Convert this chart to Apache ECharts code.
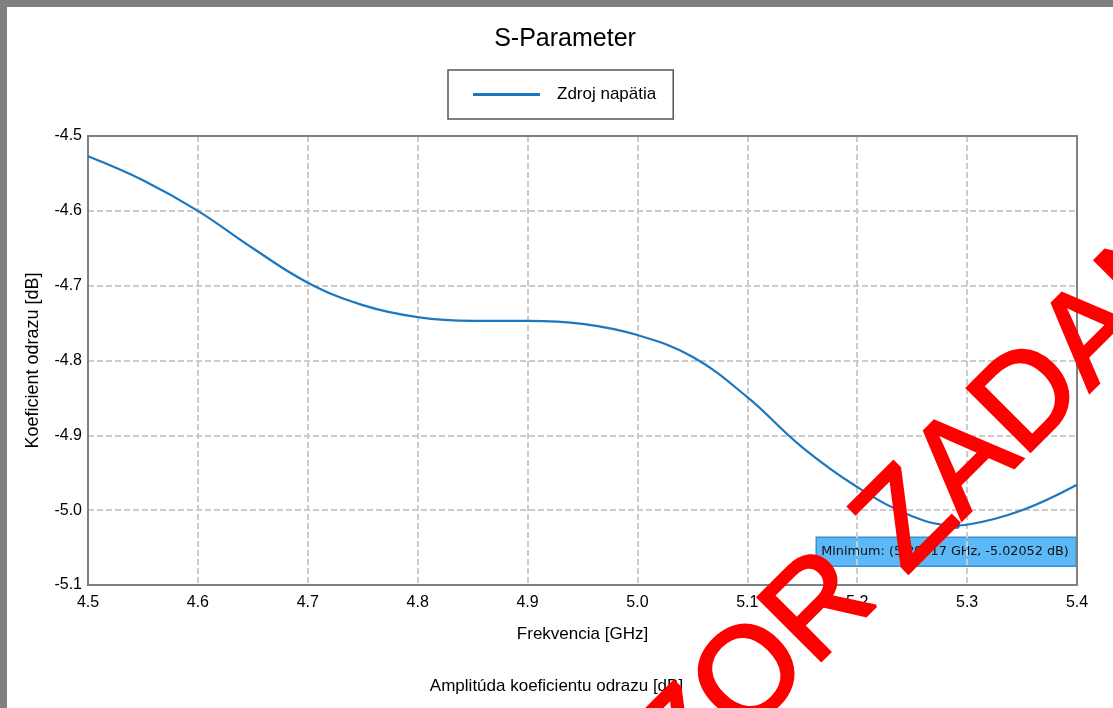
<!DOCTYPE html>
<html>
<head>
<meta charset="utf-8">
<script src="https://cdn.jsdelivr.net/npm/echarts@6/dist/echarts.min.js"></script>
<style>
html,body{margin:0;padding:0;}
#bg{position:absolute;left:0;top:0;width:1113px;height:708px;background:#808080;overflow:hidden;}
#panel{position:absolute;left:7px;top:7px;width:1106px;height:701px;background:#ffffff;}
#chart{position:absolute;left:0;top:0;width:1113px;height:708px;}
</style>
</head>
<body>
<div id="bg"><div id="panel"></div><div id="chart"></div></div>
<script>
const chartTitle = 'S-Parameter';
const seriesName = 'Zdroj napätia';
const xAxisName = 'Frekvencia [GHz]';
const yAxisName = 'Koeficient odrazu [dB]';
const subCaption = 'Amplitúda koeficientu odrazu [dB]';
const watermark = 'VZOR ZADANIA';
const freq = [4.50, 4.55, 4.60, 4.65, 4.70, 4.75, 4.80, 4.85, 4.90, 4.95, 5.00, 5.05, 5.10, 5.15, 5.20, 5.25, 5.29, 5.30, 5.35, 5.40];
const s11  = [-4.527, -4.559, -4.600, -4.650, -4.696, -4.726, -4.742, -4.747, -4.747, -4.751, -4.766, -4.795, -4.849, -4.916, -4.969, -5.008, -5.0205, -5.0195, -5.000, -4.966];
const minPoint = [5.29017, -5.02052];
const minLabel = 'Minimum: (5.29017 GHz, -5.02052 dB)';

const chart = echarts.init(document.getElementById('chart'), null, {renderer: 'canvas'});
const font = 'Liberation Sans';
const axisColor = '#808080';
const gridLine = {show: true, lineStyle: {color: '#cccccc', width: 2, type: [6, 3]}};
chart.setOption({
  backgroundColor: 'transparent',
  animation: false,
  title: {
    text: chartTitle, left: 560, textAlign: 'center', top: 22,
    textStyle: {fontFamily: font, fontSize: 25, fontWeight: 'normal', color: '#000'}
  },
  legend: {
    data: [{name: seriesName, icon: 'rect'}],
    left: 448, top: 70,
    padding: [16, 17, 16, 25],
    itemWidth: 67, itemHeight: 3,
    borderColor: '#555', borderWidth: 1.5,
    textStyle: {fontFamily: font, fontSize: 17, color: '#000', padding: [0, 0, 0, 12], lineHeight: 17}
  },
  grid: {
    left: 88, top: 136, right: 36, bottom: 123,
    show: false
  },
  xAxis: [{
    type: 'value', min: 4.5, max: 5.4, interval: 0.1,
    name: xAxisName, nameLocation: 'middle', nameGap: 41,
    nameTextStyle: {fontFamily: font, fontSize: 17, color: '#000'},
    axisLine: {show: true, lineStyle: {color: axisColor, width: 2}},
    axisTick: {show: false},
    axisLabel: {fontFamily: font, fontSize: 16, color: '#000', margin: 10, formatter: v => v.toFixed(1)},
    splitLine: gridLine
  }, {
    type: 'value', min: 4.5, max: 5.4, interval: 0.1, position: 'top',
    axisLine: {show: true, onZero: false, lineStyle: {color: axisColor, width: 2}},
    axisTick: {show: false}, axisLabel: {show: false}, splitLine: {show: false}
  }],
  yAxis: [{
    type: 'value', min: -5.1, max: -4.5, interval: 0.1,
    name: yAxisName, nameLocation: 'middle', nameGap: 46, nameRotate: 90,
    nameTextStyle: {fontFamily: font, fontSize: 18, color: '#000'},
    axisLine: {show: true, onZero: false, lineStyle: {color: axisColor, width: 2}},
    axisTick: {show: false},
    axisLabel: {fontFamily: font, fontSize: 16, color: '#000', margin: 6, padding: [7, 0, 0, 0], formatter: v => v.toFixed(1)},
    splitLine: gridLine
  }, {
    type: 'value', min: -5.1, max: -4.5, interval: 0.1, position: 'right',
    axisLine: {show: true, onZero: false, lineStyle: {color: axisColor, width: 2}},
    axisTick: {show: false}, axisLabel: {show: false}, splitLine: {show: false}
  }],
  series: [
    {
      name: seriesName, type: 'line', smooth: 0.4, showSymbol: false,
      data: freq.map((f, i) => [f, s11[i]]),
      lineStyle: {color: '#1a78c2', width: 2.2},
      itemStyle: {color: '#1a78c2'},
      z: 3
    },
    {
      name: 'min', type: 'scatter', data: [minPoint], symbolSize: 7,
      itemStyle: {color: '#1b4f80'}, z: 4, silent: true
    }
  ],
  graphic: [
    {
      type: 'group', right: 36, bottom: 141, z: 50,
      children: [
        {type: 'rect', shape: {x: 0, y: 0, width: 260, height: 29},
         style: {fill: '#5cb8f6', stroke: '#3a8fd0', lineWidth: 1.5}},
        {type: 'text', x: 5, y: 14.5,
         style: {text: minLabel, fontFamily: 'DejaVu Sans', fontSize: 12.8, fill: '#111', verticalAlign: 'middle'}}
      ]
    },
    {
      type: 'text', left: 'center', top: 678, z: 50,
      style: {text: subCaption, fontFamily: font, fontSize: 17, fill: '#000'}
    },
    {
      type: 'text', x: 939, y: 492, rotation: Math.PI / 4, z: 100,
      style: {text: watermark, fontFamily: font, fontSize: 130, fill: '#ff0000', stroke: '#ff0000', lineWidth: 3, align: 'center', verticalAlign: 'middle'}
    }
  ]
});
</script>
</body>
</html>
